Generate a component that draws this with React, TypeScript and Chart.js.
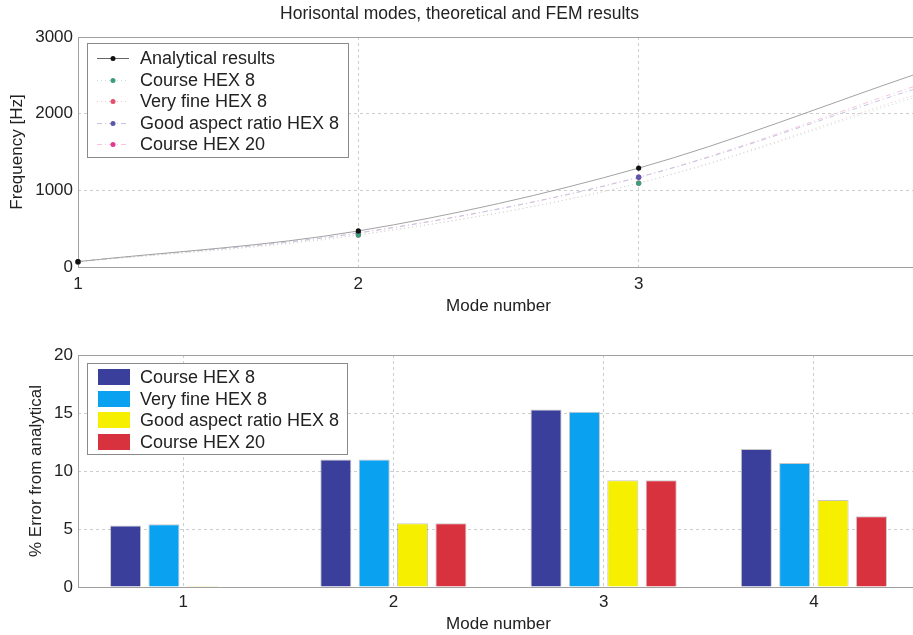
import React, { useEffect, useRef } from "react";
import { Chart, registerables } from "chart.js";
Chart.register(...registerables);

// ---- data ----
const modes = [1, 2, 3, 4];
const analyticalFreq = [70, 470, 1290, 2530];
const courseHex8Freq = [66, 418, 1093, 2229];
const veryFineHex8Freq = [66, 418, 1095, 2259];
const goodAspectHex8Freq = [70, 444, 1171, 2340];
const courseHex20Freq = [70, 444, 1171, 2376];

const modeLabels = ["1", "2", "3", "4"];
const errCourseHex8 = [5.3, 11.0, 15.3, 11.9];
const errVeryFineHex8 = [5.4, 11.0, 15.1, 10.7];
const errGoodAspectHex8 = [0.1, 5.5, 9.2, 7.5];
const errCourseHex20 = [0, 5.5, 9.2, 6.1];

const FONT = "'Liberation Sans', Arial, Helvetica, sans-serif";
const TXT = "#222";
const FS = 17;
const LEG_FS = 18;

const framePlugin = {
  id: "frame",
  beforeDatasetsDraw(chart: any) {
    const { ctx, chartArea: a } = chart;
    ctx.save();
    ctx.strokeStyle = "#a0a0a0";
    ctx.lineWidth = 1;
    ctx.setLineDash([]);
    ctx.strokeRect(
      Math.round(a.left) + 0.5,
      Math.round(a.top) + 0.5,
      Math.round(a.right - a.left),
      Math.round(a.bottom - a.top)
    );
    ctx.restore();
  },
};

const boxLegend = {
  id: "boxLegend",
  afterDraw(chart: any, _args: any, o: any) {
    const { ctx } = chart;
    ctx.save();
    ctx.fillStyle = "#fff";
    ctx.fillRect(o.x, o.y, o.w, o.h);
    ctx.strokeStyle = "#8a8a8a";
    ctx.lineWidth = 1;
    ctx.setLineDash([]);
    ctx.strokeRect(o.x + 0.5, o.y + 0.5, o.w, o.h);
    ctx.font = `${LEG_FS}px ${FONT}`;
    ctx.textBaseline = "middle";
    ctx.textAlign = "left";
    chart.data.datasets.forEach((ds: any, i: number) => {
      const y = Math.round(o.y + o.first + i * o.step);
      if (o.kind === "line") {
        ctx.strokeStyle = ds.legendLine || ds.borderColor;
        ctx.setLineDash(ds.borderDash || []);
        ctx.lineWidth = 1;
        ctx.beginPath();
        ctx.moveTo(o.x + 10, y + 0.5);
        ctx.lineTo(o.x + 42, y + 0.5);
        ctx.stroke();
        ctx.setLineDash([]);
        ctx.fillStyle = ds.pointBackgroundColor;
        ctx.beginPath();
        ctx.arc(o.x + 26, y + 0.5, 2.5, 0, Math.PI * 2);
        ctx.fill();
      } else {
        ctx.fillStyle = ds.backgroundColor;
        ctx.fillRect(o.x + 11, y - 8, 32, 16);
      }
      ctx.fillStyle = TXT;
      ctx.fillText(ds.label, o.x + 53, y + 1);
    });
    ctx.restore();
  },
};

const font = { family: FONT, size: FS, weight: "normal" as const };
const gridOpts = { color: "#cdcdcd", lineWidth: 1, drawTicks: false };
const borderOpts = { display: false, dash: [3, 3] };
const plainTick = (v: any) => String(v);

function xy(vals: number[]) {
  return modes.map((m, i) => ({ x: m, y: vals[i] }));
}

export default function App() {
  const topRef = useRef<HTMLCanvasElement>(null);
  const botRef = useRef<HTMLCanvasElement>(null);

  useEffect(() => {
    const lineCommon = {
      borderWidth: 1,
      pointRadius: 2.6,
      pointBorderWidth: 0,
      cubicInterpolationMode: "monotone" as const,
      fill: false,
      clip: false,
    };
    const top = new Chart(topRef.current!, {
      type: "line",
      data: {
        datasets: [
          { ...lineCommon, label: "Analytical results", data: xy(analyticalFreq), borderColor: "#a2a2a2", legendLine: "#666", pointBackgroundColor: "#111" },
          { ...lineCommon, label: "Course HEX 8", data: xy(courseHex8Freq), borderColor: "#c4e3d7", borderDash: [1, 3], pointBackgroundColor: "#3c9c7c" },
          { ...lineCommon, label: "Very fine HEX 8", data: xy(veryFineHex8Freq), borderColor: "#f4c2cc", borderDash: [1, 3], pointBackgroundColor: "#e4506c" },
          { ...lineCommon, label: "Good aspect ratio HEX 8", data: xy(goodAspectHex8Freq), borderColor: "#c6c6e2", borderDash: [5, 3, 1, 3], pointBackgroundColor: "#5a58a8" },
          { ...lineCommon, label: "Course HEX 20", data: xy(courseHex20Freq), borderColor: "#f5c4df", borderDash: [5, 3, 1, 3], pointBackgroundColor: "#e2388e" },
        ] as any,
      },
      options: {
        animation: false,
        responsive: false,
        events: [],
        layout: { padding: { left: 0, right: 21, top: 0, bottom: 0 } },
        plugins: {
          legend: { display: false },
          tooltip: { enabled: false },
          title: {
            display: true,
            text: "Horisontal modes, theoretical and FEM results",
            color: TXT,
            font: { family: FONT, size: 17.5, weight: "normal" },
            padding: { top: 4, bottom: 12 },
          },
          boxLegend: { kind: "line", x: 87, y: 43, w: 261, h: 114, first: 15, step: 21.5 },
        } as any,
        scales: {
          x: {
            type: "linear",
            min: 1,
            max: 4,
            afterFit: (s: any) => { s.height = 53; },
            ticks: { stepSize: 1, color: TXT, font, padding: 7, maxRotation: 0, callback: plainTick },
            grid: gridOpts,
            border: borderOpts,
            title: { display: true, text: "Mode number", color: TXT, font, padding: { top: 0, bottom: 3 } },
          },
          y: {
            min: 0,
            max: 3000,
            afterFit: (s: any) => { s.width = 78; },
            ticks: { stepSize: 1000, color: TXT, font, padding: 5, callback: plainTick },
            grid: gridOpts,
            border: borderOpts,
            title: { display: true, text: "Frequency [Hz]", color: TXT, font, padding: { top: 7, bottom: 0 } },
          },
        },
      },
      plugins: [framePlugin, boxLegend],
    });

    const barCommon = { borderWidth: 1, borderColor: "rgba(0,0,0,0.22)", categoryPercentage: 0.73, barPercentage: 0.81 };
    const bot = new Chart(botRef.current!, {
      type: "bar",
      data: {
        labels: modeLabels,
        datasets: [
          { ...barCommon, label: "Course HEX 8", data: errCourseHex8, backgroundColor: "#3b3f9c" },
          { ...barCommon, label: "Very fine HEX 8", data: errVeryFineHex8, backgroundColor: "#0ba1f1" },
          { ...barCommon, label: "Good aspect ratio HEX 8", data: errGoodAspectHex8, backgroundColor: "#f6ef00" },
          { ...barCommon, label: "Course HEX 20", data: errCourseHex20, backgroundColor: "#d8323f" },
        ] as any,
      },
      options: {
        animation: false,
        responsive: false,
        events: [],
        layout: { padding: { left: 0, right: 21, top: 25, bottom: 0 } },
        plugins: {
          legend: { display: false },
          tooltip: { enabled: false },
          boxLegend: { kind: "bar", x: 87, y: 33, w: 260, h: 91, first: 14, step: 21.7 },
        } as any,
        scales: {
          x: {
            afterFit: (s: any) => { s.height = 48; },
            ticks: { color: TXT, font, padding: 5, maxRotation: 0 },
            grid: { ...gridOpts, offset: false },
            border: borderOpts,
            title: { display: true, text: "Mode number", color: TXT, font, padding: { top: 0, bottom: 0 } },
          },
          y: {
            min: 0,
            max: 20,
            afterFit: (s: any) => { s.width = 78; },
            ticks: { stepSize: 5, color: TXT, font, padding: 5, callback: plainTick },
            grid: gridOpts,
            border: borderOpts,
            title: { display: true, text: "% Error from analytical", color: TXT, font, padding: { top: 26, bottom: 0 } },
          },
        },
      },
      plugins: [framePlugin, boxLegend],
    });

    return () => {
      top.destroy();
      bot.destroy();
    };
  }, []);

  return (
    <div style={{ position: "fixed", left: 0, top: 0, width: 913, height: 635, overflow: "hidden", background: "#fff" }}>
      <canvas ref={topRef} width={940} height={320} style={{ position: "absolute", left: 0, top: 0, width: 940, height: 320 }} />
      <canvas ref={botRef} width={940} height={305} style={{ position: "absolute", left: 0, top: 330, width: 940, height: 305 }} />
    </div>
  );
}
